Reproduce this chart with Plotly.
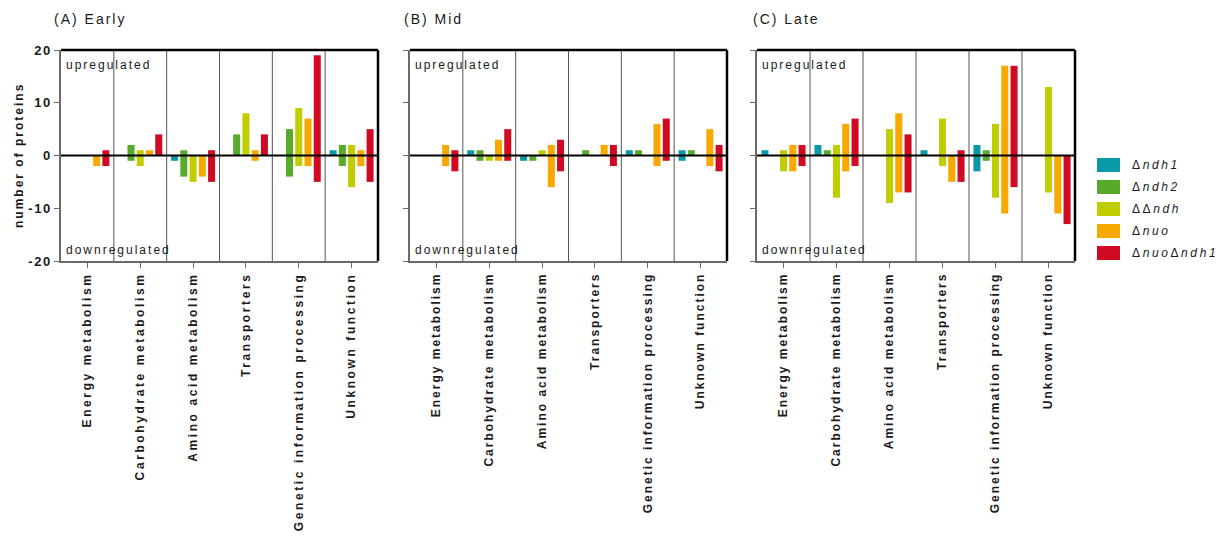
import plotly.graph_objects as go

categories = ["Energy metabolism", "Carbohydrate metabolism", "Amino acid metabolism",
              "Transporters", "Genetic information processing", "Unknown function"]

series = ["ndh1", "ndh2", "ddndh", "nuo", "nuondh1"]
series_labels = ["Δ<i>ndh1</i>", "Δ<i>ndh2</i>", "ΔΔ<i>ndh</i>", "Δ<i>nuo</i>", "Δ<i>nuo</i>Δ<i>ndh1</i>"]
series_colors = ["#0A9AA6", "#58AA2B", "#C0CD00", "#F7A900", "#D00A22"]

panels = ["(A) Early", "(B) Mid", "(C) Late"]

y_tick_values = [-20, -10, 0, 10, 20]
y_tick_labels = ["-20", "-10", "0", "10", "20"]

# Up- and downregulated protein counts per strain, one entry per category
early_up = {
    "ndh1":    [0, 0, 0, 0, 0, 1],
    "ndh2":    [0, 2, 1, 4, 5, 2],
    "ddndh":   [0, 1, 0, 8, 9, 2],
    "nuo":     [0, 1, 0, 1, 7, 1],
    "nuondh1": [1, 4, 1, 4, 19, 5],
}
early_down = {
    "ndh1":    [0, 0, 1, 0, 0, 0],
    "ndh2":    [0, 1, 4, 0, 4, 2],
    "ddndh":   [0, 2, 5, 0, 2, 6],
    "nuo":     [2, 0, 4, 1, 2, 2],
    "nuondh1": [2, 0, 5, 0, 5, 5],
}
mid_up = {
    "ndh1":    [0, 1, 0, 0, 1, 1],
    "ndh2":    [0, 1, 0, 1, 1, 1],
    "ddndh":   [0, 0, 1, 0, 0, 0],
    "nuo":     [2, 3, 2, 2, 6, 5],
    "nuondh1": [1, 5, 3, 2, 7, 2],
}
mid_down = {
    "ndh1":    [0, 0, 1, 0, 0, 1],
    "ndh2":    [0, 1, 1, 0, 0, 0],
    "ddndh":   [0, 1, 0, 0, 0, 0],
    "nuo":     [2, 1, 6, 0, 2, 2],
    "nuondh1": [3, 1, 3, 2, 1, 3],
}
late_up = {
    "ndh1":    [1, 2, 0, 1, 2, 0],
    "ndh2":    [0, 1, 0, 0, 1, 0],
    "ddndh":   [1, 2, 5, 7, 6, 13],
    "nuo":     [2, 6, 8, 0, 17, 0],
    "nuondh1": [2, 7, 4, 1, 17, 0],
}
late_down = {
    "ndh1":    [0, 0, 0, 0, 3, 0],
    "ndh2":    [0, 0, 0, 0, 1, 0],
    "ddndh":   [3, 8, 9, 2, 8, 7],
    "nuo":     [3, 3, 7, 5, 11, 11],
    "nuondh1": [2, 2, 7, 5, 6, 13],
}

ups = [early_up, mid_up, late_up]
downs = [early_down, mid_down, late_down]

FONT = "Liberation Sans, Arial, sans-serif"
INK = "#1a1a1a"
GREY = "#6a6a6a"

W, H = 1226, 536
x_domains = [(61, 378), (410, 727), (757, 1075)]
y_px = (50, 261)  # top, bottom of plotting area

fig = go.Figure()

for p in range(3):
    xa = "x" if p == 0 else f"x{p + 1}"
    ya = "y" if p == 0 else f"y{p + 1}"
    for s, key in enumerate(series):
        up = ups[p][key]
        dn = downs[p][key]
        span = [u + d if (u + d) > 0 else None for u, d in zip(up, dn)]
        base = [-d for d in dn]
        fig.add_trace(go.Bar(
            x=categories, y=span, base=base,
            name=series_labels[s], offsetgroup=key,
            marker=dict(color=series_colors[s], line=dict(width=0)),
            xaxis=xa, yaxis=ya, showlegend=False,
        ))

shapes = []
annotations = []

for p in range(3):
    sfx = "" if p == 0 else str(p + 1)
    x0, x1 = x_domains[p]
    axis_x = dict(
        domain=[x0 / W, x1 / W], anchor=f"y{sfx}",
        range=[-0.5, 5.5], showgrid=False, zeroline=False,
        showline=True, linecolor=GREY, linewidth=1.5,
        ticks="outside", ticklen=5, tickwidth=1.2, tickcolor=GREY,
        tickangle=-90, tickfont=dict(family=FONT, size=12, color=INK, weight="bold"),
        automargin=False, fixedrange=True,
    )
    axis_y = dict(
        domain=[1 - y_px[1] / H, 1 - y_px[0] / H], anchor=f"x{sfx}",
        range=[-20, 20], tickmode="array",
        tickvals=y_tick_values, ticktext=y_tick_labels,
        showgrid=False, zeroline=False,
        showline=True, linecolor=GREY, linewidth=1.5,
        ticks="outside", ticklen=5, tickwidth=1.2, tickcolor=GREY,
        showticklabels=(p == 0),
        tickfont=dict(family=FONT, size=13, color=INK, weight="bold"),
        automargin=False, fixedrange=True,
    )
    fig.layout[f"xaxis{sfx}"] = axis_x
    fig.layout[f"yaxis{sfx}"] = axis_y

    xref_d = f"x{sfx} domain"
    yref_d = f"y{sfx} domain"
    xref = f"x{sfx}"
    yref = f"y{sfx}"

    # category separators
    for i in range(len(categories) - 1):
        shapes.append(dict(type="line", xref=xref, yref=yref_d,
                           x0=i + 0.5, x1=i + 0.5, y0=0, y1=1,
                           line=dict(color="#555555", width=1), layer="below"))
    # heavy top and right frame
    shapes.append(dict(type="line", xref=xref_d, yref=yref_d, x0=0, x1=1, y0=1, y1=1,
                       line=dict(color="black", width=2.5), layer="above"))
    shapes.append(dict(type="line", xref=xref_d, yref=yref_d, x0=1, x1=1, y0=0, y1=1,
                       line=dict(color="black", width=2.5), layer="above"))
    # zero line above the bars
    shapes.append(dict(type="line", xref=xref_d, yref=yref, x0=0, x1=1, y0=0, y1=0,
                       line=dict(color="black", width=2.2), layer="above"))

    annotations.append(dict(text="upregulated", xref=xref_d, yref=yref_d,
                            x=0.008, y=0.93, xanchor="left", yanchor="middle", align="left",
                            showarrow=False, font=dict(family=FONT, size=12, color=INK)))
    annotations.append(dict(text="downregulated", xref=xref_d, yref=yref_d,
                            x=0.008, y=0.052, xanchor="left", yanchor="middle", align="left",
                            showarrow=False, font=dict(family=FONT, size=12, color=INK)))
    title_x = [52, 402, 751][p]
    annotations.append(dict(text=panels[p], xref="paper", yref="paper",
                            x=title_x / W, y=1 - 19 / H, xanchor="left", yanchor="middle",
                            align="left", showarrow=False,
                            font=dict(family=FONT, size=14, color=INK)))

annotations.append(dict(text="number of proteins", xref="paper", yref="paper",
                        x=19 / W, y=1 - 155 / H, xanchor="center", yanchor="middle",
                        textangle=-90, showarrow=False,
                        font=dict(family=FONT, size=12, color=INK, weight="bold")))

# strain key on the right
for s, lab in enumerate(series_labels):
    cy = 165 + 22 * s
    shapes.append(dict(type="rect", xref="paper", yref="paper",
                       x0=1097 / W, x1=1120 / W, y0=1 - (cy + 7) / H, y1=1 - (cy - 7) / H,
                       fillcolor=series_colors[s], line=dict(width=0)))
    annotations.append(dict(text=lab, xref="paper", yref="paper",
                            x=1130 / W, y=1 - cy / H, xanchor="left", yanchor="middle",
                            align="left", showarrow=False, name="key",
                            font=dict(family=FONT, size=12, color=INK)))

fig.update_layout(
    width=W, height=H,
    margin=dict(l=0, r=0, t=0, b=0),
    paper_bgcolor="white", plot_bgcolor="white",
    barmode="group", bargap=0.125, bargroupgap=0.24,
    showlegend=False,
    shapes=shapes, annotations=annotations,
    font=dict(family=FONT, color=INK),
)

# widen the letter spacing of all labels
post = """
var gd = document.getElementById('{plot_id}');
function spread(){
  gd.querySelectorAll('text').forEach(function(t){
    var s = t.textContent || '';
    t.style.letterSpacing = (s.indexOf('\\u0394') >= 0) ? '2.6px' : '2px';
  });
  gd.querySelectorAll('.xtick text').forEach(function(t){ t.style.letterSpacing = '2.6px'; });
  gd.querySelectorAll('.ytick text').forEach(function(t){ t.style.letterSpacing = '1.5px'; });
}
spread();
gd.on('plotly_afterplot', spread);
"""

fig.write_html("out.html", post_script=post, config={"displayModeBar": False})
